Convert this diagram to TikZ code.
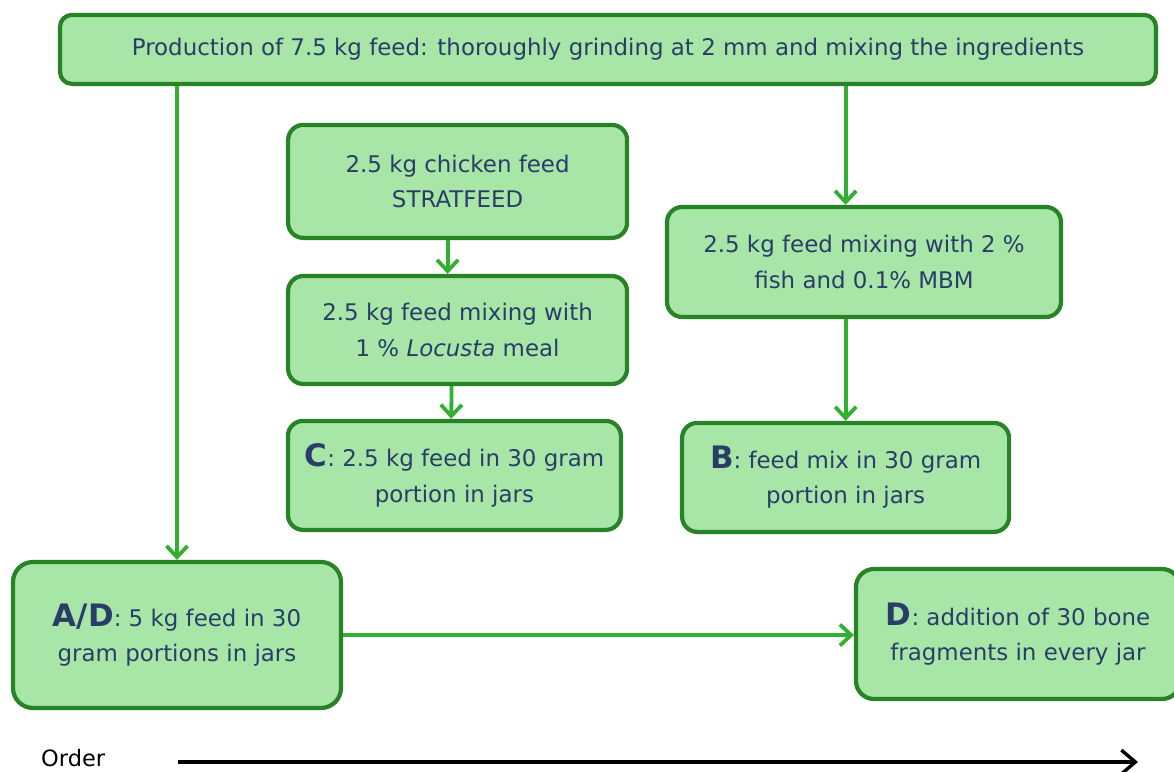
\documentclass[tikz,border=0pt]{standalone}
\usepackage{fontspec}
\setmainfont{DejaVu Sans}
\usepackage{xcolor}
\definecolor{fdfill}{RGB}{168,230,168}
\definecolor{fdborder}{RGB}{40,130,38}
\definecolor{fdarrow}{RGB}{50,176,50}
\definecolor{fdtext}{RGB}{40,62,104}
\usepackage{tikz}
\usetikzlibrary{arrows.meta, positioning}
\tikzset{
  feedbox/.style={draw=fdborder, fill=fdfill, line width=3pt, rounded corners=0.38cm,
    align=center, text=fdtext, font=\fontsize{16.3}{25}\selectfont, inner sep=0pt},
  flow/.style={draw=fdarrow, line width=2.7pt, -{Straight Barb[length=8pt,width=15pt]}},
  timeline/.style={draw=black, line width=2.4pt, -{Straight Barb[length=10pt,width=17pt]}},
}
\newcommand{\grp}[1]{{\fontsize{22}{25}\selectfont\bfseries #1}}

\begin{document}
\begin{tikzpicture}
  \useasboundingbox (0,0) rectangle (29.35,19.275);
  % boxes
  \node[feedbox, minimum width=27.4cm, minimum height=1.725cm, rounded corners=0.3cm] (top) at (15.2,18.04)
    {Production of 7.5 kg feed: thoroughly grinding at 2 mm and mixing the ingredients};
  \node[feedbox, minimum width=8.475cm, minimum height=2.825cm] (chicken) at (11.44,14.74)
    {2.5 kg chicken feed\\STRATFEED};
  \node[feedbox, minimum width=8.475cm, minimum height=2.7cm] (locusta) at (11.44,11.025)
    {2.5 kg feed mixing with\\1 \% \textit{Locusta} meal};
  \node[feedbox, minimum width=8.325cm, minimum height=2.725cm] (jarc) at (11.36,7.39)
    {\grp{C}: 2.5 kg feed in 30 gram\\portion in jars};
  \node[feedbox, minimum width=9.85cm, minimum height=2.75cm] (fish) at (21.6,12.725)
    {2.5 kg feed mixing with 2 \%\\fish and 0.1\% MBM};
  \node[feedbox, minimum width=8.175cm, minimum height=2.725cm] (jarb) at (21.14,7.34)
    {\grp{B}: feed mix in 30 gram\\portion in jars};
  \node[feedbox, minimum width=8.2cm, minimum height=3.65cm, rounded corners=0.5cm] (jarad) at (4.425,3.4)
    {\grp{A/D}: 5 kg feed in 30\\gram portions in jars};
  \node[feedbox, minimum width=8.1cm, minimum height=3.25cm, rounded corners=0.45cm] (bones) at (25.45,3.425)
    {\grp{D}: addition of 30 bone\\fragments in every jar};
  % arrows
  \draw[flow] (jarad.north |- top.south) -- (jarad.north);
  \draw[flow] (jarb.north |- top.south) -- (jarb.north |- fish.north);
  \draw[flow] (jarb.north |- fish.south) -- (jarb.north);
  \draw[flow] ([xshift=-0.25cm]chicken.south) -- ([xshift=-0.25cm]locusta.north);
  \draw[flow] ([xshift=-0.15cm]locusta.south) -- ([xshift=-0.08cm]jarc.north);
  \draw[flow] (jarad.east) -- (jarad.east -| bones.west);
  % order
  \node[font=\fontsize{16}{20}\selectfont] (order) at (1.83,0.33) {Order};
  \coordinate (tstart) at (4.45,0.225);
  \coordinate (tend) at (28.45,0.225);
  \draw[timeline] (tstart) -- (tend);
\end{tikzpicture}
\end{document}
